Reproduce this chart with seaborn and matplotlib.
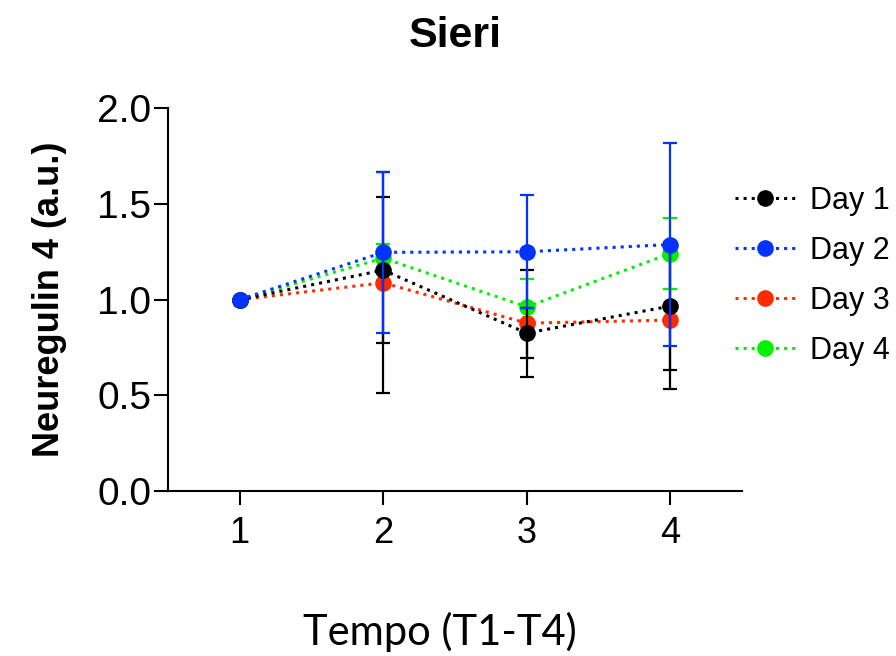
import pandas as pd
import matplotlib
matplotlib.use('Agg')
import matplotlib.pyplot as plt
import seaborn as sns
from matplotlib.lines import Line2D

# Data
tempo = [1, 2, 3, 4]
days = ['Day 1', 'Day 2', 'Day 3', 'Day 4']

day1 = [1.0, 1.154, 0.825, 0.966]
day2 = [1.0, 1.247, 1.250, 1.288]
day3 = [1.0, 1.088, 0.877, 0.893]
day4 = [1.0, 1.217, 0.962, 1.241]

# error (SD) per point
err1 = [0.0, 0.383, 0.130, 0.333]
err2 = [0.0, 0.420, 0.296, 0.531]
err3 = [0.0, 0.577, 0.280, 0.360]
err4 = [0.0, 0.075, 0.145, 0.186]

colors = {'Day 1': '#000000', 'Day 2': '#0433ff', 'Day 3': '#ff2a00', 'Day 4': '#00f000'}
# error bars of Day 3 are drawn in black in the original
err_colors = {'Day 1': '#000000', 'Day 2': '#0433ff', 'Day 3': '#000000', 'Day 4': '#00f000'}

df = pd.DataFrame({
    'tempo': tempo * 4,
    'value': day1 + day2 + day3 + day4,
    'err': err1 + err2 + err3 + err4,
    'day': [d for d in days for _ in tempo],
})

sns.set_style('ticks')
plt.rcParams['font.family'] = ['Liberation Sans', 'DejaVu Sans']
plt.rcParams['text.color'] = 'black'
plt.rcParams['axes.labelcolor'] = 'black'
plt.rcParams['xtick.color'] = 'black'
plt.rcParams['ytick.color'] = 'black'
plt.rcParams['axes.edgecolor'] = 'black'

fig = plt.figure(figsize=(8.96, 6.56), dpi=100)
ax = fig.add_axes([0.1875, 0.2515, 0.6405, 0.5835])

# drawing order so that overlaps look like the reference
order = ['Day 3', 'Day 4', 'Day 1', 'Day 2']
for i, d in enumerate(order):
    sub = df[df['day'] == d]
    ax.errorbar(sub['tempo'], sub['value'], yerr=sub['err'], fmt='none',
                ecolor=err_colors[d], elinewidth=1.6, capsize=5, capthick=1.6,
                zorder=2 + i)
    sns.lineplot(data=sub, x='tempo', y='value', color=colors[d], ax=ax,
                 linestyle=':', linewidth=2.2, marker='o', markersize=12,
                 markeredgewidth=0, zorder=2.5 + i, legend=False)

ax.set_xlim(0.5, 4.5)
ax.set_ylim(0, 2.0)
ax.set_xticks([1, 2, 3, 4])
ax.set_yticks([0.0, 0.5, 1.0, 1.5, 2.0])
ax.set_yticklabels(['0.0', '0.5', '1.0', '1.5', '2.0'])
ax.tick_params(axis='y', labelsize=28, length=10, width=1.5, pad=2)
ax.tick_params(axis='x', labelsize=26, length=10, width=1.5, pad=8)
for s in ['left', 'bottom']:
    ax.spines[s].set_linewidth(1.5)
sns.despine(ax=ax)

ax.set_xlabel('Tempo (T1-T4)', fontsize=30, family=['Lato', 'DejaVu Sans'],
              labelpad=44, x=0.474)
ax.set_ylabel('Neuregulin 4 (a.u.)', fontsize=26, fontweight='bold', labelpad=22)
ax.set_title('Sieri', fontsize=31, fontweight='bold', pad=44)

handles = [Line2D([0], [0], color=colors[d], linestyle=':', linewidth=2.2,
                  marker='o', markersize=12, markeredgewidth=0) for d in days]
ax.legend(handles, days, loc='upper left', bbox_to_anchor=(0.82, 0.717),
          bbox_transform=fig.transFigure, borderaxespad=0, borderpad=0,
          frameon=False, fontsize=22, handlelength=2.0, labelspacing=0.66,
          handletextpad=0.45)

fig.savefig('out.png', dpi=100)
